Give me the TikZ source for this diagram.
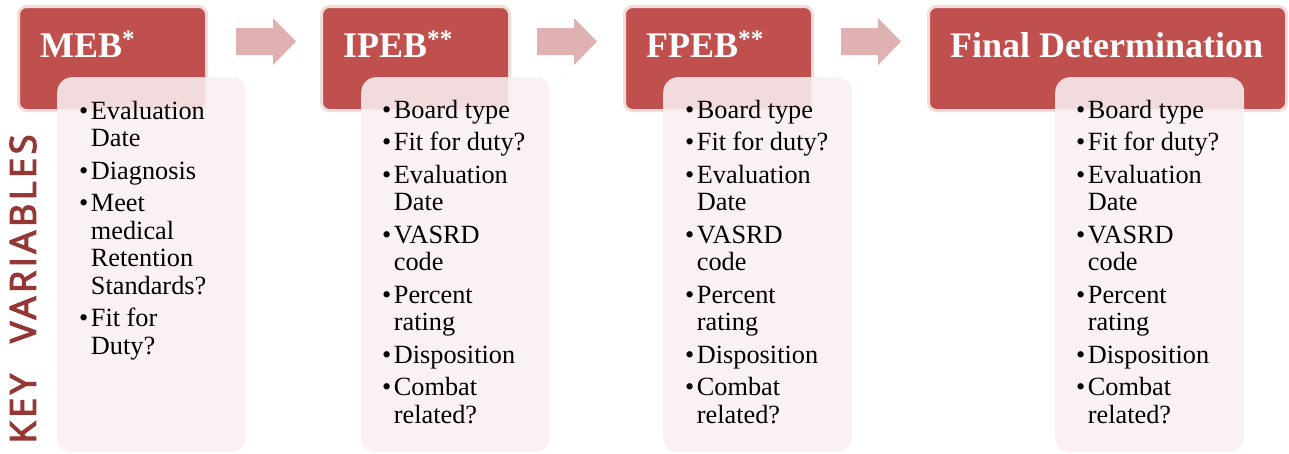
\documentclass[tikz,border=0pt]{standalone}
\usepackage{fontspec}
\setmainfont{Liberation Serif}
\newfontfamily\keyfont[LetterSpace=10,FakeBold=3.5]{Open Sans}
\usetikzlibrary{calc}

\definecolor{hdrred}{RGB}{192,80,77}
\definecolor{hdrline}{RGB}{242,220,219}
\definecolor{boxfill}{RGB}{249,239,240}
\definecolor{arrowpink}{RGB}{223,177,176}
\definecolor{keyred}{RGB}{149,55,53}

\newcommand{\bl}{\textbullet}
\newcommand{\boardlist}{%
\begin{tabular}[t]{@{}l@{\hspace{2.5pt}}l@{}}
\bl & Board type\\[5pt]
\bl & Fit for duty?\\[5pt]
\bl & Evaluation\\ & Date\\[5pt]
\bl & VASRD\\ & code\\[5pt]
\bl & Percent\\ & rating\\[5pt]
\bl & Disposition\\[5pt]
\bl & Combat\\ & related?
\end{tabular}}

\tikzset{
  hdr/.style={draw=hdrline,line width=3pt,fill=hdrred,rounded corners=8pt,
    anchor=north west,inner sep=0pt,minimum height=104pt},
  hdrtxt/.style={text=white,font=\fontsize{36}{40}\selectfont\bfseries,
    anchor=base west,inner sep=0pt},
  varbox/.style={fill=boxfill,fill opacity=.88,rounded corners=15pt,anchor=north west,
    minimum width=189pt,minimum height=375pt,inner sep=0pt},
  varlist/.style={font=\fontsize{26.3}{27.5}\selectfont,anchor=base west,inner sep=0pt},
  flowarrow/.pic={\fill[arrowpink] (0,-13.5) -- (37,-13.5) -- (37,-23.5) -- (60,0)
    -- (37,23.5) -- (37,13.5) -- (0,13.5) -- cycle;}
}

\begin{document}
\begin{tikzpicture}[x=1pt,y=-1pt]
  \useasboundingbox (0,0) rectangle (1289,453);
  % stage headers
  \node[hdr,minimum width=188pt] (meb) at (17,5) {};
  \node[hdr,minimum width=188pt] (ipeb) at (320,5) {};
  \node[hdr,minimum width=188pt] (fpeb) at (623,5) {};
  \node[hdr,minimum width=358pt] (final) at (927,5) {};
  \node[hdrtxt] (mebt) at ($(meb.north west)+(23,52)$) {MEB\textsuperscript{*}};
  \node[hdrtxt] (ipebt) at ($(ipeb.north west)+(23,52)$) {IPEB\textsuperscript{**}};
  \node[hdrtxt] (fpebt) at ($(fpeb.north west)+(23,52)$) {FPEB\textsuperscript{**}};
  \node[hdrtxt] (finalt) at ($(final.north west)+(23,52)$) {Final Determination};
  % arrows between stages
  \pic at ($(meb.north east)+(28,36.5)$) {flowarrow};
  \pic at ($(ipeb.north east)+(26,36.5)$) {flowarrow};
  \pic at ($(fpeb.north east)+(27,36.5)$) {flowarrow};
  % variable boxes
  \node[varbox] (mebv) at (57,77) {};
  \node[varbox] (ipebv) at (361,77) {};
  \node[varbox] (fpebv) at (663,77) {};
  \node[varbox] (finalv) at (1055,77) {};
  \node[varlist] (mebl) at ($(mebv.north west)+(22,42)$) {%
    \begin{tabular}[t]{@{}l@{\hspace{2.5pt}}l@{}}
    \bl & Evaluation\\ & Date\\[5pt]
    \bl & Diagnosis\\[5pt]
    \bl & Meet\\ & medical\\ & Retention\\ & Standards?\\[5pt]
    \bl & Fit for\\ & Duty?
    \end{tabular}};
  \node[varlist] (ipebl) at ($(ipebv.north west)+(21,41)$) {\boardlist};
  \node[varlist] (fpebl) at ($(fpebv.north west)+(22,41)$) {\boardlist};
  \node[varlist] (finall) at ($(finalv.north west)+(21,41)$) {\boardlist};
  % side label
  \node[rotate=90,text=keyred,font=\keyfont\fontsize{36}{40}\selectfont,inner sep=0pt]
    (keyvar) at (23,289) {KEY\hspace{31pt}VARIABLES};
\end{tikzpicture}
\end{document}
